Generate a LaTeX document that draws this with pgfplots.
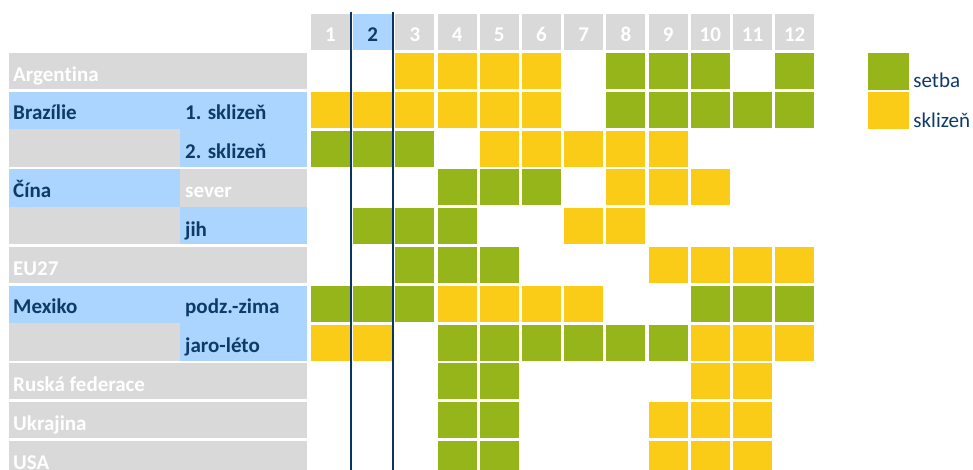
\documentclass[border=0pt]{standalone}
\usepackage{pgfplots}
\pgfplotsset{compat=1.18}
\usepackage{fontspec}
\setmainfont{Carlito}[Ligatures=NoCommon]
\definecolor{cgreen}{HTML}{95B51B}
\definecolor{cyellow}{HTML}{FACC18}
\definecolor{cgray}{HTML}{D9D9D9}
\definecolor{cblue}{HTML}{ABD5FF}
\definecolor{cnavy}{HTML}{0E3A68}
\definecolor{cline}{HTML}{0B3463}
\pgfdeclareplotmark{cell}{\pgfpathrectangle{\pgfpoint{-19.5bp}{-18bp}}{\pgfpoint{39bp}{36bp}}\pgfusepath{fill}}
\newcommand\lf{\fontsize{21bp}{24bp}\selectfont\bfseries}
\begin{document}
\begin{tikzpicture}
\begin{axis}[
  at={(0,0)}, anchor=south west,
  width=973bp, height=470bp, scale only axis,
  xmin=-6.832, xmax=16.225,
  ymin=-0.830, ymax=11.284, y dir=reverse,
  hide axis, clip=true, clip marker paths=true,
  /pgf/number format/assume math mode=true,
  legend style={at={(axis description cs:0.8921,0.8872)}, anchor=north west,
    draw=none, fill=none, inner sep=0pt, outer sep=0pt, row sep=3bp, column sep=5bp,
    nodes={inner sep=0pt, font=\fontsize{21bp}{24bp}\selectfont, text=cnavy}},
  legend cell align=left,
]
% label panels
\fill[cgray] (axis cs:-6.618,0.536) rectangle (axis cs:0.443,1.464);
\fill[cblue] (axis cs:-6.618,1.536) rectangle (axis cs:0.443,2.5);
\fill[cgray] (axis cs:-6.618,2.5) rectangle (axis cs:-2.566,3.464);
\fill[cblue] (axis cs:-2.566,2.5) rectangle (axis cs:0.443,3.464);
\fill[cblue] (axis cs:-6.618,3.536) rectangle (axis cs:-2.566,4.5);
\fill[cgray] (axis cs:-2.566,3.536) rectangle (axis cs:0.443,4.5);
\fill[cgray] (axis cs:-6.618,4.5) rectangle (axis cs:-2.566,5.464);
\fill[cblue] (axis cs:-2.566,4.5) rectangle (axis cs:0.443,5.464);
\fill[cgray] (axis cs:-6.618,5.536) rectangle (axis cs:0.443,6.464);
\fill[cblue] (axis cs:-6.618,6.536) rectangle (axis cs:0.443,7.5);
\fill[cgray] (axis cs:-6.618,7.5) rectangle (axis cs:-2.566,8.464);
\fill[cblue] (axis cs:-2.566,7.5) rectangle (axis cs:0.443,8.464);
\fill[cgray] (axis cs:-6.618,8.536) rectangle (axis cs:0.443,9.464);
\fill[cgray] (axis cs:-6.618,9.536) rectangle (axis cs:0.443,10.464);
\fill[cgray] (axis cs:-6.618,10.536) rectangle (axis cs:0.443,11.464);
% header cells
\addplot[only marks, mark=cell, mark options={fill=cgray, draw=none},
  nodes near coords={\pgfmathprintnumber[int detect]{\pgfplotspointmeta}}, point meta=x,
  every node near coord/.style={anchor=base, yshift=-9bp, font=\lf, text=white, inner sep=0pt},
  forget plot]
  coordinates {(1,0) (3,0) (4,0) (5,0) (6,0) (7,0) (8,0) (9,0) (10,0) (11,0) (12,0)};
\addplot[only marks, mark=cell, mark options={fill=cblue, draw=none},
  nodes near coords={\pgfmathprintnumber[int detect]{\pgfplotspointmeta}}, point meta=x,
  every node near coord/.style={anchor=base, yshift=-9bp, font=\lf, text=cnavy, inner sep=0pt},
  forget plot]
  coordinates {(2,0)};
% setba
\addplot[only marks, mark=cell, mark options={fill=cgreen, draw=none},
  legend image code/.code={\fill[cgreen] (0bp,-8bp) rectangle (40bp,28bp);}]
  coordinates {
  (8,1) (9,1) (10,1) (12,1)
  (8,2) (9,2) (10,2) (11,2) (12,2)
  (1,3) (2,3) (3,3)
  (4,4) (5,4) (6,4)
  (2,5) (3,5) (4,5)
  (3,6) (4,6) (5,6)
  (1,7) (2,7) (3,7) (10,7) (11,7) (12,7)
  (4,8) (5,8) (6,8) (7,8) (8,8) (9,8)
  (4,9) (5,9)
  (4,10) (5,10)
  (4,11) (5,11)
  };
\addlegendentry{setba}
% sklizen
\addplot[only marks, mark=cell, mark options={fill=cyellow, draw=none},
  legend image code/.code={\fill[cyellow] (0bp,-8bp) rectangle (40bp,28bp);}]
  coordinates {
  (3,1) (4,1) (5,1) (6,1)
  (1,2) (2,2) (3,2) (4,2) (5,2) (6,2)
  (5,3) (6,3) (7,3) (8,3) (9,3)
  (8,4) (9,4) (10,4)
  (7,5) (8,5)
  (9,6) (10,6) (11,6) (12,6)
  (4,7) (5,7) (6,7) (7,7)
  (1,8) (2,8) (10,8) (11,8) (12,8)
  (10,9) (11,9)
  (9,10) (10,10) (11,10)
  (9,11) (10,11) (11,11)
  };
\addlegendentry{sklizeň}
% month-2 marker lines
\draw[cline, line width=2.6bp] (axis cs:1.486,-0.521) -- (axis cs:1.486,11.4);
\draw[cline, line width=2.6bp] (axis cs:2.481,-0.521) -- (axis cs:2.481,11.4);
% row labels
\begin{scope}[every node/.style={anchor=base west, inner sep=0pt, font=\lf}]
\node[text=white] at (axis cs:-6.523,1.26) {Argentina};
\node[text=cnavy] at (axis cs:-6.523,2.26) {Brazílie};
\node[text=cnavy] at (axis cs:-2.448,2.26) {1. sklizeň};
\node[text=cnavy] at (axis cs:-2.448,3.26) {2. sklizeň};
\node[text=cnavy] at (axis cs:-6.523,4.26) {Čína};
\node[text=white] at (axis cs:-2.448,4.26) {sever};
\node[text=cnavy] at (axis cs:-2.448,5.26) {jih};
\node[text=white] at (axis cs:-6.523,6.26) {EU27};
\node[text=cnavy] at (axis cs:-6.523,7.26) {Mexiko};
\node[text=cnavy] at (axis cs:-2.448,7.26) {podz.-zima};
\node[text=cnavy] at (axis cs:-2.448,8.26) {jaro-léto};
\node[text=white] at (axis cs:-6.523,9.26) {Ruská federace};
\node[text=white] at (axis cs:-6.523,10.26) {Ukrajina};
\node[text=white] at (axis cs:-6.523,11.26) {USA};
\end{scope}
\end{axis}
\pgfresetboundingbox
\path (0,0) rectangle (973bp,470bp);
\end{tikzpicture}
\end{document}
